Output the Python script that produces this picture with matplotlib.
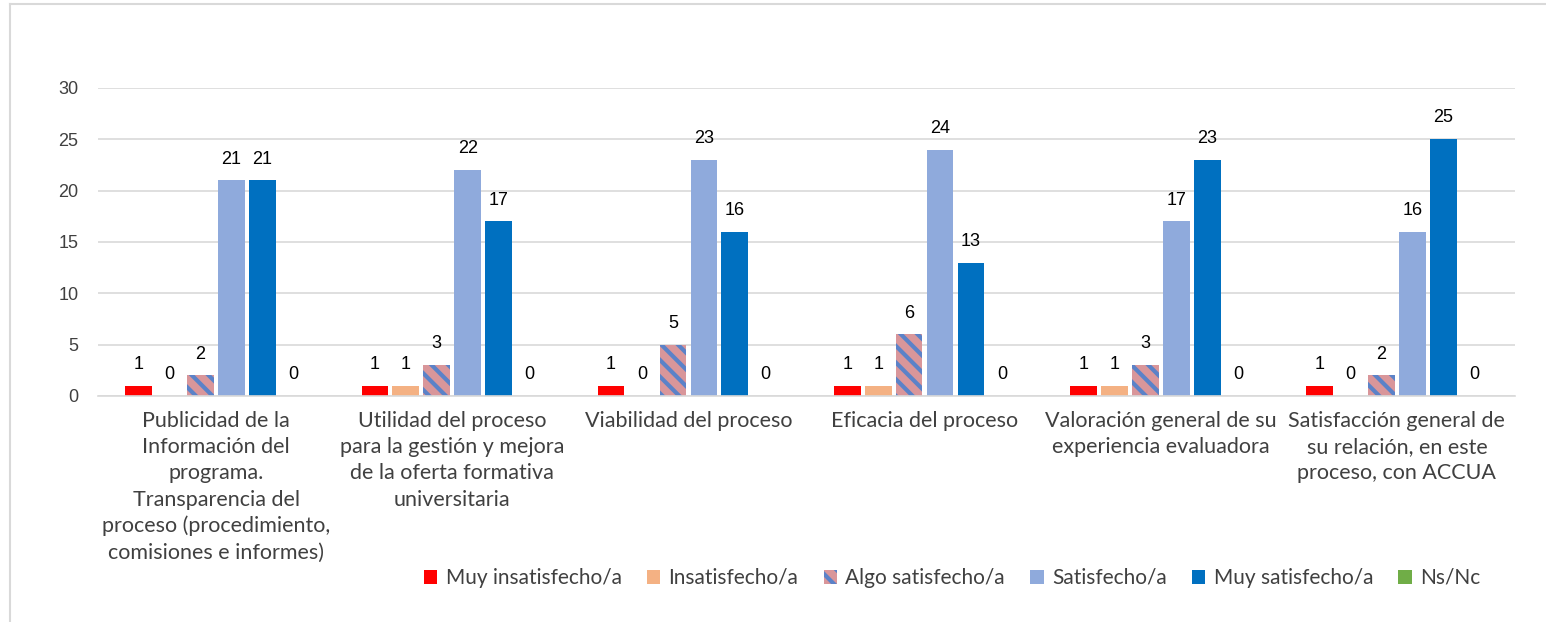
import numpy as np
import matplotlib
matplotlib.use("Agg")
import matplotlib.pyplot as plt
from matplotlib.lines import Line2D

categorias = [
    "Publicidad de la\nInformación del\nprograma.\nTransparencia del\nproceso (procedimiento,\ncomisiones e informes)",
    "Utilidad del proceso\npara la gestión y mejora\nde la oferta formativa\nuniversitaria",
    "Viabilidad del proceso",
    "Eficacia del proceso",
    "Valoración general de su\nexperiencia evaluadora",
    "Satisfacción general de\nsu relación, en este\nproceso, con ACCUA",
]
series = ["Muy insatisfecho/a", "Insatisfecho/a", "Algo satisfecho/a",
          "Satisfecho/a", "Muy satisfecho/a", "Ns/Nc"]
muy_insatisfecho = [1, 1, 1, 1, 1, 1]
insatisfecho = [0, 1, 0, 1, 1, 0]
algo_satisfecho = [2, 3, 5, 6, 3, 2]
satisfecho = [21, 22, 23, 24, 17, 16]
muy_satisfecho = [21, 17, 16, 13, 23, 25]
ns_nc = [0, 0, 0, 0, 0, 0]
valores = [muy_insatisfecho, insatisfecho, algo_satisfecho,
           satisfecho, muy_satisfecho, ns_nc]

colores = ["#FF0000", "#F4B183", "#D9969A", "#8FAADC", "#0070C0", "#70AD47"]

plt.rcParams['hatch.linewidth'] = 3.0
plt.rcParams['hatch.color'] = "#5B82C8"

fig = plt.figure(figsize=(15.46, 6.22), dpi=100)
ax = fig.add_axes([98/1546, 1 - 396/622, (1515-98)/1546, (396-88)/622])

x = np.arange(len(categorias))
slot = 0.131
ancho = 0.113
for i, (nom, vals) in enumerate(zip(series, valores)):
    pos = x + (i - 2.5) * slot
    if i == 2:
        ax.bar(pos, vals, ancho, color=colores[i], hatch='\\\\', edgecolor="#5B82C8",
               linewidth=0, label=nom)
    else:
        ax.bar(pos, vals, ancho, color=colores[i], linewidth=0, label=nom)
    for p, v in zip(pos, vals):
        ax.text(p, v + 1.25, str(v), ha='center', va='bottom', fontsize=13,
                family='Liberation Sans', color='#000000')

ax.set_xlim(-0.5, len(categorias) - 0.5)
ax.set_ylim(0, 30)
ax.set_yticks(range(0, 31, 5))
ax.yaxis.grid(True, color='#D9D9D9', linewidth=1.2)
ax.set_axisbelow(True)
for s in ['top', 'right', 'left']:
    ax.spines[s].set_visible(False)
ax.spines['bottom'].set_color('#D9D9D9')
ax.spines['bottom'].set_linewidth(1.2)
ax.tick_params(axis='both', length=0)
ax.tick_params(axis='y', pad=14, labelsize=13, labelcolor='#404040')
for t in ax.get_yticklabels():
    t.set_family('Liberation Sans')
ax.set_xticks(x)
ax.set_xticklabels(categorias, fontsize=15.5, family='Lato', color='#404040',
                   linespacing=1.38, va='top')
ax.tick_params(axis='x', pad=11)

handles = []
for i, nom in enumerate(series):
    if i == 2:
        h = plt.Rectangle((0, 0), 1, 1, facecolor=colores[i], hatch='\\\\', edgecolor="#5B82C8", linewidth=0)
    else:
        h = plt.Rectangle((0, 0), 1, 1, facecolor=colores[i], linewidth=0)
    handles.append(h)
leg = fig.legend(handles, series, loc='center', bbox_to_anchor=(952/1546, 1 - 578/622),
                 ncol=6, frameon=False, handlelength=0.65, handleheight=0.65,
                 handletextpad=0.4, columnspacing=1.2, prop={'family': 'Lato', 'size': 15})
for t in leg.get_texts():
    t.set_color('#404040')

fig.add_artist(Line2D([10/1546, 10/1546], [0, 1 - 4/622], transform=fig.transFigure,
                      color='#D9D9D9', linewidth=1.5))
fig.add_artist(Line2D([10/1546, 1], [1 - 4/622, 1 - 4/622], transform=fig.transFigure,
                      color='#D9D9D9', linewidth=1.5))

fig.savefig("out.png", dpi=100)
